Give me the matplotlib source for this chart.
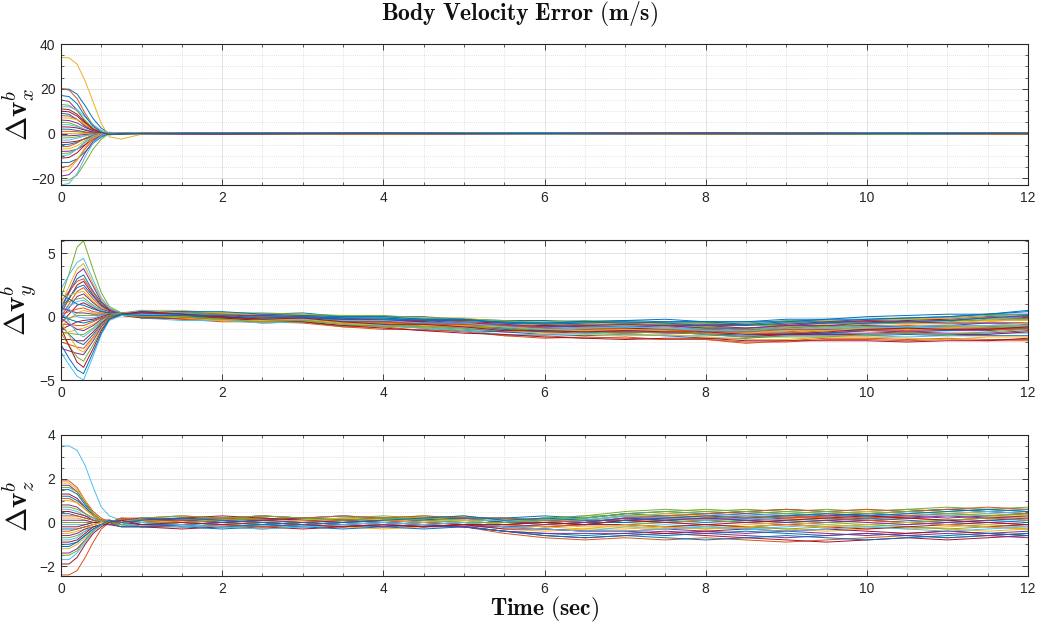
import numpy as np
import matplotlib
matplotlib.use('Agg')
import matplotlib.pyplot as plt
from matplotlib.ticker import MultipleLocator

plt.rcParams['mathtext.fontset'] = 'cm'
plt.rcParams['font.family'] = ['Liberation Sans', 'DejaVu Sans']

# ---------------- text ----------------
TITLE = r'$\mathbf{Body\ Velocity\ Error\ (m/s)}$'
XLABEL = r'$\mathbf{Time\ (sec)}$'
YLABELS = [r'$\Delta\mathbf{v}^b_x$', r'$\Delta\mathbf{v}^b_y$', r'$\Delta\mathbf{v}^b_z$']
XTICKS = [0, 2, 4, 6, 8, 10, 12]

# MATLAB default line colour order
COLORS = ['#0072BD', '#D95319', '#EDB120', '#7E2F8E', '#77AC30', '#4DBEEE', '#A2142F']

# ---------------- data (values in tenths of m/s) ----------------
SCALE = 0.1

# ---- panel x ----
TX_TRANS = [0.0, 0.1, 0.2, 0.3, 0.4, 0.5, 0.6, 0.75, 1.0]
TX_STEADY = [2, 3, 4, 5, 6, 7, 8, 9, 10, 11, 12]
VX_TRANS = [
    [200, 198, 176, 124, 66, 24, 0, -4, 0],
    [200, 194, 156, 90, 36, 8, -6, -2, 1],
    [340, 338, 310, 235, 140, 45, -15, -25, -3],
    [150, 143, 105, 53, 18, 3, -2, 0, 1],
    [130, 126, 101, 59, 23, 5, -4, -1, 0],
    [120, 119, 106, 74, 40, 14, 0, -2, -1],
    [100, 97, 78, 45, 18, 4, -3, -1, 2],
    [90, 86, 63, 32, 11, 2, -1, 0, 0],
    [80, 78, 62, 36, 14, 3, -2, -1, 1],
    [70, 69, 62, 43, 23, 8, 0, -1, -1],
    [60, 58, 47, 27, 11, 2, -2, 0, 0],
    [50, 48, 35, 18, 6, 1, 0, 0, 1],
    [40, 39, 31, 18, 7, 2, -1, 0, -1],
    [30, 29, 25, 15, 6, 2, 0, -1, 0],
    [20, 19, 14, 7, 2, 0, 0, 1, 0],
    [10, 10, 8, 5, 2, 1, 0, 0, 0],
    [0, 0, 1, 0, -1, 0, 1, 0, 0],
    [-10, -10, -8, -4, -2, 0, 1, 0, 0],
    [-20, -19, -15, -9, -4, -1, 1, 0, 1],
    [-30, -29, -21, -11, -4, -1, 0, 0, -1],
    [-40, -39, -34, -24, -13, -5, 0, 1, 0],
    [-50, -48, -39, -22, -9, -2, 1, 0, 0],
    [-60, -57, -42, -21, -7, -1, 0, 0, 1],
    [-70, -68, -55, -31, -13, -3, 2, 1, 0],
    [-80, -79, -70, -50, -26, -10, 0, 2, 0],
    [-90, -87, -70, -40, -16, -4, 2, 1, -1],
    [-100, -95, -70, -35, -12, -2, 1, 0, 0],
    [-110, -107, -86, -50, -20, -4, 3, 1, 0],
    [-130, -129, -114, -81, -43, -16, 0, 2, 0],
    [-150, -146, -117, -68, -27, -6, 4, 1, 0],
    [-170, -162, -119, -60, -20, -3, 2, 0, 1],
    [-190, -184, -148, -86, -34, -8, 5, 2, -1],
    [-210, -208, -185, -130, -69, -25, 0, 4, 0],
    [-230, -223, -179, -104, -41, -9, 6, 2, 0],
    [110, 107, 86, 50, 20, 4, -3, -1, 0],
    [170, 165, 133, 77, 31, 7, -5, -2, 1],
]
VX_STEADY = [
    [1, 0, -1, 0, 1, 2, 1, 0, 1, 0, 1],
    [-1, 0, 1, 0, -1, 0, -1, -2, -1, 0, 1],
    [0, 1, 0, -1, 0, 1, 3, 1, 0, -1, 0],
    [2, 1, 0, 1, 0, -1, 0, 1, 2, 1, 0],
    [-2, -1, 0, -1, -2, -1, 0, -1, 0, 1, 0],
    [0, -1, 0, 1, 2, 1, 0, -1, 0, 1, 2],
    [1, 2, 1, 0, -1, 0, 1, 0, -1, 0, 1],
    [-1, -2, -1, 0, 1, 0, -1, 0, 1, 2, 1],
    [0, 0, 1, 2, 1, 0, 2, 1, 0, -1, -2],
    [1, 0, -1, -2, -1, 0, 1, 2, 1, 0, -1],
    [-1, 0, 1, 2, 1, 2, 1, 0, -1, -2, -1],
    [2, 1, 2, 1, 0, 1, 0, -1, 0, -1, 0],
    [0, 1, 2, 1, 0, -1, -2, -1, 0, 1, 0],
    [-2, -1, -2, -1, 0, 1, 0, 1, 2, 1, 2],
    [1, 0, 1, 0, 1, 0, 4, 2, 1, 0, 1],
    [0, -1, -2, -1, 0, -1, 0, 1, 0, -1, -2],
    [-1, 0, -1, 0, -1, 0, 1, 0, -1, 0, -1],
    [2, 1, 0, -1, 0, 1, 2, 1, 2, 1, 0],
    [0, 1, 0, 1, 2, 1, 0, -1, -2, -1, 0],
    [-1, -2, -1, -2, -1, 0, -1, 0, 1, 0, 1],
    [1, 2, 1, 2, 1, 0, 1, 2, 1, 2, 1],
    [0, -1, 0, -1, 0, 1, 0, -1, 0, -1, 0],
    [-2, -1, 0, 1, 0, -1, -2, -1, 0, 1, 2],
    [1, 0, -1, 0, 1, 2, 1, 2, 1, 0, -1],
    [0, 1, 2, 1, 2, 1, 0, 1, 0, 1, 0],
    [-1, -2, -1, 0, -1, -2, -1, -2, -1, 0, -1],
    [2, 1, 0, 1, 2, 1, 2, 1, 0, -1, 0],
    [0, 0, -1, -2, -1, 0, 1, 0, 1, 2, 1],
    [-1, 0, 1, 0, 1, 0, -1, 0, -1, 0, 1],
    [1, 2, 1, 0, -1, -2, -1, 0, 1, 0, -1],
    [0, -1, -2, -1, 0, 1, 2, 1, 0, 1, 2],
    [-2, -1, 0, -1, 0, 1, 0, -1, 0, 1, 0],
    [1, 0, 1, 2, 1, 0, -1, 0, 1, 2, 1],
    [0, 1, 0, -1, -2, -1, 0, 1, 2, 1, 0],
    [-1, 0, -1, 0, 1, 2, 3, 2, 1, 0, -1],
    [2, 1, 2, 1, 0, -1, 0, -1, 0, 1, 2],
]

# ---- shared knot times for panels y and z ----
T_TRANS = [0.0, 0.1, 0.2, 0.28, 0.4, 0.5, 0.6, 0.75]
T_TRANS_Z = [0.0, 0.1, 0.2, 0.3, 0.4, 0.5, 0.6, 0.75]
T_STEADY = [1.0, 1.5, 2.0, 2.5, 3.0, 3.5, 4.0, 4.5, 5.0, 5.5, 6.0, 6.5,
            7.0, 7.5, 8.0, 8.5, 9.0, 9.5, 10.0, 10.5, 11.0, 11.5, 12.0]

# ---- panel y ----
VY_CENTER = [2, 1, 0, -1, -1, -3, -4, -5, -6, -8, -9, -9,
             -9, -9, -10, -11, -10, -9, -8, -8, -8, -7, -6]
VY_TRANS = [
    [8, 19, 30, 33, 20, 11, 5, 2],
    [12, 20, 28, 30, 19, 10, 5, 1],
    [10, 24, 38, 42, 26, 14, 6, 1],
    [5, 20, 34, 38, 24, 12, 6, 3],
    [15, 34, 55, 60, 37, 19, 8, 3],
    [22, 33, 43, 46, 29, 15, 7, 2],
    [3, 14, 25, 28, 17, 9, 5, 2],
    [6, 15, 23, 25, 16, 9, 4, 3],
    [0, 10, 20, 23, 14, 8, 4, 2],
    [14, 17, 19, 20, 12, 7, 4, 1],
    [-2, 7, 16, 18, 11, 6, 4, 2],
    [9, 12, 14, 15, 9, 5, 3, 2],
    [4, 8, 12, 13, 8, 5, 3, 1],
    [-5, 2, 9, 11, 7, 4, 3, 2],
    [18, 14, 10, 9, 6, 4, 3, 2],
    [2, 4, 6, 7, 4, 3, 2, 3],
    [-8, -2, 3, 5, 3, 3, 2, 1],
    [7, 5, 3, 3, 2, 2, 2, 2],
    [-3, -1, 1, 1, 1, 1, 2, 2],
    [11, 6, 0, -1, -1, 1, 2, 3],
    [-10, -7, -4, -3, -2, 0, 2, 2],
    [1, -2, -4, -5, -3, -1, 1, 2],
    [-6, -6, -7, -7, -4, -1, 1, 1],
    [-15, -12, -10, -9, -6, -2, 1, 2],
    [-1, -6, -10, -11, -7, -2, 1, 2],
    [-12, -13, -14, -14, -9, -3, 1, 3],
    [5, -4, -13, -16, -10, -4, 0, 2],
    [-18, -18, -19, -19, -12, -5, 0, 1],
    [-7, -14, -20, -22, -14, -6, 0, 2],
    [-20, -22, -24, -25, -16, -7, 0, 1],
    [-4, -15, -25, -28, -17, -7, -1, 2],
    [-25, -27, -29, -30, -19, -8, -1, 2],
    [-13, -23, -32, -35, -22, -10, -1, 1],
    [-28, -38, -47, -50, -31, -14, -3, 1],
    [-9, -23, -36, -40, -25, -11, -2, 2],
    [-22, -33, -42, -45, -28, -13, -2, 2],
]
VY_DEV = [
    [2, 3, 2, 3, 4, 3, 4, 5, 4, 5, 6, 5, 6, 7, 6, 7, 8, 7, 8, 9, 10, 9, 11],
    [-2, -3, -2, -4, -3, -5, -4, -6, -5, -7, -6, -8, -7, -9, -8, -10, -9, -8, -9, -10, -9, -11, -12],
    [1, 0, 1, -1, 0, 1, 2, 1, 0, -1, 0, 1, 2, 3, 2, 1, 2, 3, 4, 3, 2, 3, 4],
    [0, 1, -1, 0, -2, -1, -3, -2, -1, -2, -3, -4, -3, -2, -3, -4, -5, -4, -3, -4, -5, -6, -5],
    [3, 2, 3, 2, 1, 2, 1, 2, 3, 4, 3, 2, 3, 4, 5, 4, 3, 4, 5, 6, 5, 4, 5],
    [-1, 0, -1, -2, -1, 0, -1, -2, -3, -2, -1, -2, -3, -2, -1, 0, -1, -2, -1, 0, 1, 0, -1],
    [2, 1, 0, 1, 2, 1, 2, 3, 2, 3, 2, 3, 4, 3, 4, 5, 4, 5, 4, 5, 6, 7, 6],
    [-3, -2, -3, -2, -3, -4, -3, -4, -5, -4, -5, -6, -5, -6, -7, -6, -5, -6, -7, -6, -7, -8, -9],
    [0, -1, 0, 1, 0, -1, 0, 1, 2, 1, 0, -1, 0, 1, 0, -1, -2, -1, 0, 1, 0, -1, 0],
    [1, 2, 1, 2, 3, 2, 1, 0, 1, 2, 3, 4, 3, 2, 3, 2, 1, 2, 3, 2, 3, 4, 3],
    [-1, -2, -1, 0, -1, -2, -3, -2, -3, -4, -3, -2, -3, -4, -3, -2, -3, -4, -5, -4, -3, -4, -3],
    [2, 2, 3, 4, 3, 4, 5, 4, 3, 4, 5, 6, 5, 4, 5, 6, 7, 6, 5, 6, 7, 8, 7],
    [0, 0, -1, -2, -3, -2, -3, -4, -3, -2, -1, -2, -1, 0, -1, -2, -1, 0, 1, 0, -1, -2, -1],
    [-2, -1, 0, -1, 0, 1, 0, 1, 0, 1, 2, 1, 0, -1, 0, 1, 0, -1, -2, -1, -2, -3, -2],
    [1, 0, -1, 0, 1, 0, -1, -2, -1, -2, -3, -2, -1, -2, -3, -4, -3, -4, -3, -2, -3, -2, -3],
    [-2, -3, -4, -3, -4, -5, -6, -5, -6, -7, -8, -7, -8, -9, -8, -9, -10, -9, -10, -11, -10, -12, -13],
    [3, 4, 3, 2, 3, 2, 3, 4, 5, 4, 3, 4, 3, 4, 3, 4, 5, 6, 5, 6, 7, 6, 8],
    [-1, 0, 1, 2, 1, 0, 1, 0, -1, 0, 1, 0, 1, 2, 1, 0, 1, 2, 1, 0, 1, 2, 1],
    [0, 1, 2, 1, 2, 3, 2, 3, 4, 5, 4, 3, 2, 3, 2, 1, 2, 1, 2, 3, 4, 5, 4],
    [-3, -4, -3, -4, -3, -2, -3, -4, -5, -6, -5, -4, -5, -6, -5, -4, -5, -6, -7, -8, -7, -6, -7],
    [1, 1, 0, -1, -2, -1, 0, 1, 0, -1, -2, -3, -4, -3, -4, -5, -4, -5, -6, -5, -6, -7, -6],
    [2, 3, 4, 3, 2, 3, 4, 3, 4, 3, 4, 5, 4, 5, 6, 5, 6, 5, 6, 7, 8, 9, 8],
    [-2, -2, -1, -2, -1, -2, -1, 0, 1, 0, -1, 0, -1, -2, -1, -2, -3, -2, -3, -2, -1, -2, -3],
    [0, -1, -2, -1, -2, -3, -2, -3, -2, -3, -4, -5, -6, -5, -6, -7, -8, -7, -8, -9, -10, -9, -10],
    [1, 2, 1, 0, 1, 0, -1, 0, 1, 2, 1, 2, 1, 2, 3, 2, 3, 2, 3, 4, 3, 2, 1],
    [-1, -1, -2, -1, -2, -1, -2, -3, -2, -1, -2, -3, -2, -1, 0, -1, 0, 1, 0, -1, 0, -1, -2],
    [3, 2, 1, 2, 1, 2, 3, 2, 1, 2, 1, 0, 1, 0, 1, 0, -1, 0, -1, 0, -1, 0, 1],
    [-3, -2, -1, -2, -3, -4, -5, -6, -7, -6, -7, -8, -9, -8, -7, -8, -9, -10, -11, -12, -11, -12, -11],
    [0, 1, 0, 1, 0, 1, 2, 3, 4, 3, 4, 5, 6, 5, 6, 7, 6, 7, 6, 7, 8, 9, 10],
    [2, 1, 2, 1, 0, -1, 0, -1, 0, 1, 0, -1, -2, -1, -2, -1, 0, -1, -2, -3, -2, -3, -4],
    [-1, -2, -3, -2, -1, -2, -1, -2, -1, 0, -1, -2, -1, -2, -3, -2, -1, -2, -1, -2, -1, 0, 1],
    [1, 0, 1, 2, 1, 2, 1, 2, 1, 2, 1, 2, 3, 2, 1, 2, 3, 4, 5, 4, 5, 6, 5],
    [-2, -1, -2, -3, -2, -3, -4, -3, -4, -3, -2, -3, -4, -3, -4, -5, -6, -7, -6, -5, -6, -5, -4],
    [0, 0, 1, 0, -1, 0, 1, 0, 1, 0, -1, 0, 1, 0, -1, 0, 1, 0, -1, 0, 1, 0, -1],
    [2, 1, 0, -1, 0, -1, -2, -1, -2, -3, -2, -3, -2, -3, -2, -3, -4, -3, -2, -1, -2, -3, -2],
    [-1, 0, 1, 0, 1, 2, 3, 2, 3, 4, 3, 4, 5, 4, 3, 4, 5, 4, 3, 4, 5, 6, 7],
]

# ---- panel z ----
VZ_CENTER = [0, 0, 0, 0, 0, 0, 0, 0, 0, -1, -1, -1,
             0, 0, 0, 0, 0, 0, 0, 0, 0, 0, 0]
VZ_TRANS = [
    [15, 15, 13, 8, 4, 1, -1, 0],
    [19, 19, 16, 10, 5, 2, 0, 1],
    [18, 18, 15, 10, 4, 1, 0, -1],
    [17, 17, 14, 9, 4, 1, 1, 0],
    [16, 16, 14, 9, 4, 1, 0, 2],
    [35, 35, 33, 26, 16, 7, 3, 1],
    [13, 13, 11, 7, 3, 1, 1, -1],
    [12, 12, 10, 7, 3, 1, 0, 1],
    [11, 11, 9, 6, 3, 1, 0, 2],
    [10, 10, 9, 6, 3, 1, 1, 0],
    [8, 8, 7, 4, 2, 1, 0, -1],
    [7, 7, 6, 4, 2, 1, 0, 1],
    [6, 6, 5, 3, 2, 0, -1, -1],
    [5, 5, 4, 3, 1, 0, 1, 0],
    [4, 4, 3, 2, 1, 0, 0, -1],
    [3, 3, 3, 2, 1, 1, 0, 2],
    [2, 2, 2, 1, 0, 0, 1, 0],
    [1, 1, 1, 1, 0, 0, -1, 1],
    [0, 0, 0, 0, 0, 1, 0, -1],
    [-1, -1, -1, -1, 0, 0, 1, 0],
    [-2, -2, -2, -1, 0, 0, -1, -2],
    [-3, -3, -3, -2, -1, 0, 0, 1],
    [-4, -4, -3, -2, -1, 0, 1, 0],
    [-5, -5, -4, -3, -1, 0, 0, -1],
    [-6, -6, -5, -3, -2, -1, 0, 1],
    [-7, -7, -6, -4, -2, -1, -1, 0],
    [-8, -8, -7, -4, -2, -1, 0, -1],
    [-9, -9, -8, -5, -2, -1, 0, 1],
    [-10, -10, -9, -6, -3, -1, 0, -2],
    [-24, -24, -22, -16, -9, -3, 0, 0],
    [-12, -12, -10, -7, -3, -1, 0, 1],
    [-14, -14, -12, -8, -4, -1, -1, 0],
    [-15, -15, -13, -8, -4, -1, 0, -1],
    [-17, -17, -14, -9, -4, -1, 1, 0],
    [-19, -19, -16, -10, -5, -2, 0, 1],
    [-11, -11, -9, -6, -3, -1, 1, 0],
]
VZ_DEV = [
    [2, 1, 2, 1, 2, 3, 2, 1, 2, 3, 2, 3, 4, 5, 4, 5, 6, 5, 4, 5, 6, 5, 6],
    [-2, -1, -2, -3, -2, -1, -2, -1, -2, -4, -6, -7, -7, -8, -7, -8, -9, -8, -7, -6, -7, -6, -5],
    [0, 1, 0, 1, 2, 1, 0, 1, 0, 1, 2, 1, 2, 3, 2, 3, 2, 1, 2, 3, 4, 3, 2],
    [1, 0, -1, 0, -1, -2, -1, -2, -1, -1, -2, -3, -4, -3, -4, -5, -4, -5, -6, -5, -4, -5, -4],
    [-1, 0, 1, 2, 1, 2, 1, 2, 3, 2, 3, 4, 3, 4, 5, 4, 5, 6, 5, 6, 5, 6, 7],
    [2, 2, 1, 0, 1, 0, -1, 0, 1, 0, 1, 0, -1, 0, -1, -2, -1, 0, 1, 0, -1, 0, 1],
    [-2, -3, -2, -1, 0, -1, 0, -1, -2, -3, -5, -6, -6, -5, -6, -7, -8, -9, -8, -7, -8, -7, -6],
    [0, -1, 0, -1, 0, 1, 2, 1, 2, 3, 4, 3, 4, 3, 4, 5, 4, 3, 4, 5, 6, 5, 4],
    [1, 2, 1, 2, 1, 0, 1, 2, 1, 2, 1, 2, 1, 0, 1, 2, 3, 2, 1, 2, 1, 2, 3],
    [-1, -2, -1, -2, -1, -2, -3, -2, -1, -2, -3, -2, -3, -2, -1, -2, -3, -4, -3, -2, -3, -4, -3],
    [2, 1, 0, 1, 0, 1, 0, -1, 0, -1, 0, 1, 2, 1, 2, 1, 2, 3, 4, 3, 2, 3, 4],
    [0, 1, 2, 1, 2, 1, 2, 3, 2, 1, 3, 4, 5, 6, 5, 6, 5, 4, 5, 6, 7, 6, 5],
    [-2, -1, 0, -1, -2, -1, -2, -1, 0, -1, -2, -3, -2, -1, -2, -3, -2, -1, -2, -1, 0, -1, -2],
    [1, 0, 1, 0, -1, 0, 1, 0, -1, 0, -1, 0, 1, 2, 1, 0, -1, 0, 1, 0, -1, 0, -1],
    [-1, -2, -3, -2, -1, 0, -1, -2, -2, -3, -4, -5, -5, -6, -5, -4, -5, -6, -5, -6, -7, -6, -5],
    [2, 3, 2, 1, 2, 1, 2, 1, 2, 1, 2, 1, 0, 1, 2, 3, 2, 3, 2, 3, 4, 5, 4],
    [0, -1, -2, -1, 0, 1, 0, 1, 0, -1, 0, -1, -2, -3, -2, -1, 0, -1, -2, -3, -2, -1, -2],
    [1, 1, 2, 3, 2, 1, 2, 1, 2, 1, 1, 2, 3, 2, 3, 4, 3, 4, 3, 2, 3, 2, 3],
    [-1, 0, -1, 0, 1, 0, -1, 0, -1, 0, 1, 0, -1, -2, -3, -2, -3, -2, -1, -2, -3, -2, -3],
    [2, 1, 2, 3, 2, 3, 2, 1, 0, 1, 2, 3, 2, 3, 4, 3, 4, 5, 6, 5, 4, 5, 6],
    [-2, -2, -1, -2, -3, -2, -1, -2, -1, -2, -2, -3, -4, -5, -4, -3, -4, -3, -4, -5, -4, -5, -6],
    [0, 1, 0, -1, 0, -1, 0, 1, 2, 1, 2, 1, 0, 1, 0, 1, 0, 1, 2, 1, 0, 1, 0],
    [1, 0, -1, -2, -1, -2, -1, 0, 1, 0, -1, 0, 1, 0, 1, 2, 1, 2, 1, 0, 1, 2, 1],
    [-1, 0, 1, 0, -1, 0, 1, 2, 1, 2, 3, 2, 3, 4, 3, 2, 3, 4, 5, 4, 5, 4, 3],
    [2, 1, 0, 1, 2, 1, 0, -1, -2, -3, -4, -4, -5, -4, -5, -6, -7, -6, -5, -6, -5, -6, -7],
    [0, 0, 1, 2, 1, 2, 3, 2, 1, 2, 1, 0, -1, 0, 1, 0, 1, 0, -1, 0, 1, 2, 1],
    [-1, -2, -1, 0, -1, 0, -1, 0, 1, 2, 1, 2, 3, 2, 1, 2, 1, 2, 3, 4, 3, 4, 5],
    [1, 2, 3, 2, 1, 0, 1, 0, -1, 0, 1, 0, -1, -2, -1, -2, -1, -2, -3, -2, -1, -2, -1],
    [-2, -1, -2, -1, -2, -3, -2, -3, -2, -3, -5, -6, -6, -7, -8, -7, -6, -7, -8, -7, -6, -5, -6],
    [0, 1, 2, 3, 2, 3, 2, 3, 2, 3, 2, 1, 2, 3, 4, 5, 6, 5, 6, 5, 6, 7, 6],
    [1, 0, -1, 0, 1, 2, 1, 0, 1, 0, -1, -2, -1, -2, -3, -2, -1, -2, -1, 0, -1, -2, -3],
    [-1, -1, 0, 1, 0, -1, -2, -1, -2, -1, 0, 1, 2, 1, 2, 1, 0, 1, 0, -1, 0, 1, 2],
    [2, 3, 2, 3, 2, 1, 2, 1, 0, 1, 2, 3, 4, 5, 6, 5, 4, 5, 4, 5, 4, 3, 4],
    [0, -1, -2, -3, -2, -1, 0, -1, 0, -1, -2, -3, -4, -3, -2, -3, -4, -3, -2, -3, -4, -3, -2],
    [-1, 0, -1, 0, -1, -2, -1, -2, -1, 0, 1, 0, 1, 0, -1, 0, 1, 2, 3, 2, 1, 0, -1],
    [1, 2, 1, 0, -1, 0, 1, 2, 3, 2, 3, 2, 1, 2, 3, 2, 3, 4, 3, 4, 5, 6, 5],
]

YLIMS = [(-23, 40), (-5, 6.1), (-2.45, 4.0)]
YMAJOR = [20, 5, 2]
YMINOR = [5, 1, 0.5]

# ---------------- build runs ----------------
def runs_x():
    t = np.array(TX_TRANS + TX_STEADY, dtype=float)
    out = []
    for tr, st in zip(VX_TRANS, VX_STEADY):
        v = np.array(tr + st, dtype=float) * SCALE
        n = min(len(t), len(v))
        out.append((t[:n], v[:n]))
    return out


def runs_yz(t_trans, trans, center, dev):
    t = np.array(t_trans + T_STEADY, dtype=float)
    out = []
    for tr, dv in zip(trans, dev):
        steady = [c + d for c, d in zip(center, dv)]
        v = np.array(tr + steady, dtype=float) * SCALE
        n = min(len(t), len(v))
        out.append((t[:n], v[:n]))
    return out


ALL_RUNS = [runs_x(),
            runs_yz(T_TRANS, VY_TRANS, VY_CENTER, VY_DEV),
            runs_yz(T_TRANS_Z, VZ_TRANS, VZ_CENTER, VZ_DEV)]

# ---------------- figure ----------------
W, H = 1039, 628
fig = plt.figure(figsize=(W / 100, H / 100), dpi=100)
fig.patch.set_facecolor('white')

left = 61 / W
width = (1028 - 61) / W
tops = [44, 239.5, 435]
bottoms = [185, 380, 576]

AXC = '#262626'
for i in range(3):
    ax = fig.add_axes([left, 1 - bottoms[i] / H, width, (bottoms[i] - tops[i]) / H])
    for j, (t, v) in enumerate(ALL_RUNS[i]):
        ax.plot(t, v, color=COLORS[j % len(COLORS)], lw=0.7, solid_joinstyle='round')
    ax.set_xlim(0, 12)
    ax.set_xticks(XTICKS)
    ax.xaxis.set_minor_locator(MultipleLocator(0.5))
    ax.yaxis.set_major_locator(MultipleLocator(YMAJOR[i]))
    ax.yaxis.set_minor_locator(MultipleLocator(YMINOR[i]))
    ax.set_ylim(*YLIMS[i])
    ax.grid(which='major', color=AXC, alpha=0.15, lw=0.6, ls='-')
    ax.grid(which='minor', color=AXC, alpha=0.25, lw=0.5, ls=(0, (1, 2)))
    ax.set_axisbelow(True)
    ax.tick_params(which='both', direction='in', top=True, right=True,
                   colors=AXC, labelsize=10, pad=4)
    ax.tick_params(which='major', length=4.5, width=0.6)
    ax.tick_params(which='minor', length=2.5, width=0.5)
    for s in ax.spines.values():
        s.set_color(AXC)
        s.set_linewidth(0.8)
    yc = 1 - (tops[i] + bottoms[i]) / 2 / H
    fig.text(19 / W, yc, YLABELS[i], rotation=90, ha='center', va='center',
             fontsize=21, color='#111111')

# figure-centred title (MATLAB sgtitle), axis-centred x label
fig.text(0.5, 1 - 14 / H, TITLE, ha='center', va='center',
         fontsize=17, color='#111111')
fig.text((61 + 1028) / 2 / W, 1 - 615 / H, XLABEL, ha='center', va='baseline',
         fontsize=17, color='#111111')

fig.savefig('out.png', dpi=100, facecolor='white')
